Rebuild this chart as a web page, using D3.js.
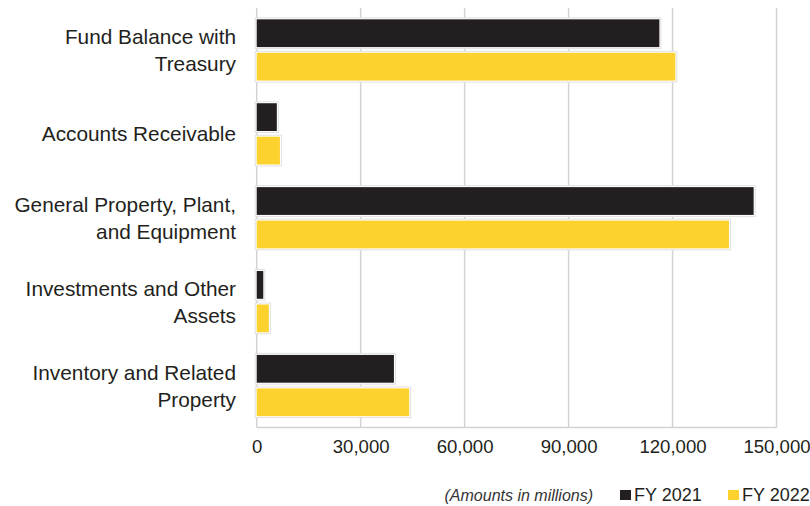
<!DOCTYPE html>
<html>
<head>
<meta charset="utf-8">
<script src="https://cdn.jsdelivr.net/npm/d3@7"></script>
<style>
  html, body { margin: 0; padding: 0; background: #ffffff; }
  svg { display: block; font-family: "Liberation Sans", Arial, Helvetica, sans-serif; }
</style>
</head>
<body>
<svg id="chart" width="810" height="506"></svg>
<script>
// Asset categories (each label may wrap onto two lines)
const categories = [
  ["Fund Balance with", "Treasury"],
  ["Accounts Receivable"],
  ["General Property, Plant,", "and Equipment"],
  ["Investments and Other", "Assets"],
  ["Inventory and Related", "Property"]
];
const seriesNames = ["FY 2021", "FY 2022"];
// Amounts in millions
const fy2021 = [116200, 5800, 143400, 1900, 39600];
const fy2022 = [120800, 6700, 136300, 3500, 44000];
const xTicks = [0, 30000, 60000, 90000, 120000, 150000];
const legendNote = "(Amounts in millions)";

const colors = { "FY 2021": "#231f20", "FY 2022": "#fdd22f" };
const textColor = "#231f20";

const svg = d3.select("#chart");
const plot = { left: 256.7, right: 776.5, top: 8, bottom: 427.5 };

const keys = categories.map(c => c.join(" "));
const rows = keys.map((k, i) => ({ key: k, lines: categories[i], values: [fy2021[i], fy2022[i]] }));

const x = d3.scaleLinear().domain([0, 150000]).range([plot.left, plot.right]);
const y = d3.scaleBand().domain(keys).range([plot.top, plot.bottom])
  .paddingInner(0.27).paddingOuter(0.135);
const ySub = d3.scaleBand().domain(seriesNames).range([0, y.bandwidth()]).paddingInner(0.17);

// Vertical gridlines
svg.append("g").selectAll("line").data(xTicks).join("line")
  .attr("x1", d => x(d)).attr("x2", d => x(d))
  .attr("y1", plot.top).attr("y2", plot.bottom)
  .attr("stroke", "#d3d3d3").attr("stroke-width", 1.5);

// Baseline along the bottom of the plot
svg.append("line")
  .attr("x1", plot.left).attr("x2", plot.right)
  .attr("y1", plot.bottom).attr("y2", plot.bottom)
  .attr("stroke", "#d3d3d3").attr("stroke-width", 1.5);

// Bars, each sitting on a faint white halo with a soft grey edge
const groups = svg.append("g").selectAll("g").data(rows).join("g")
  .attr("transform", d => `translate(0,${y(d.key)})`);

const barData = d => seriesNames.map((s, j) => ({ series: s, value: d.values[j] }));

groups.selectAll("rect.halo").data(barData).join("rect")
  .attr("class", "halo")
  .attr("x", x(0) - 1.5)
  .attr("y", d => ySub(d.series) - 1.5)
  .attr("width", d => x(d.value) - x(0) + 3)
  .attr("height", ySub.bandwidth() + 3)
  .attr("fill", "#ffffff")
  .attr("stroke", "#e0e0e0")
  .attr("stroke-width", 1);

groups.selectAll("rect.bar").data(barData).join("rect")
  .attr("class", "bar")
  .attr("x", x(0))
  .attr("y", d => ySub(d.series))
  .attr("width", d => x(d.value) - x(0))
  .attr("height", ySub.bandwidth())
  .attr("fill", d => colors[d.series]);

// X axis tick labels
const xAxis = d3.axisBottom(x).tickValues(xTicks).tickSize(0).tickPadding(0)
  .tickFormat(d3.format(","));
const gx = svg.append("g").attr("transform", `translate(0,${plot.bottom + 12})`).call(xAxis);
gx.select(".domain").remove();
gx.selectAll("text")
  .attr("font-family", "'Liberation Sans', Arial, sans-serif")
  .attr("font-size", "18.6px")
  .attr("fill", textColor)
  .attr("dy", "0.71em");

// Category labels, right aligned against the plot
const lineH = 27;
const labels = svg.append("g").selectAll("text").data(rows).join("text")
  .attr("text-anchor", "end")
  .attr("font-size", "20.8px")
  .attr("fill", textColor)
  .attr("transform", d => `translate(236,${y(d.key) + y.bandwidth() / 2})`);
labels.selectAll("tspan").data(d => d.lines.map((t, i, a) => ({ t, i, n: a.length }))).join("tspan")
  .attr("x", 0)
  .attr("y", d => (d.i - (d.n - 1) / 2) * lineH)
  .attr("dy", "0.36em")
  .text(d => d.t);

// Legend
const legendY = 495;
svg.append("text")
  .attr("x", 593).attr("y", legendY)
  .attr("dy", "0.36em")
  .attr("text-anchor", "end")
  .attr("font-size", "16px")
  .attr("font-style", "italic")
  .attr("fill", "#333333")
  .text(legendNote);

const legendX = [620, 728];
const legend = svg.append("g").selectAll("g").data(seriesNames).join("g")
  .attr("transform", (d, i) => `translate(${legendX[i]},${legendY})`);
legend.append("rect")
  .attr("x", 0).attr("y", -5)
  .attr("width", 11).attr("height", 10)
  .attr("fill", d => colors[d]);
legend.append("text")
  .attr("x", 14).attr("y", 0)
  .attr("dy", "0.36em")
  .attr("font-size", "18px")
  .attr("fill", textColor)
  .text(d => d);
</script>
</body>
</html>
